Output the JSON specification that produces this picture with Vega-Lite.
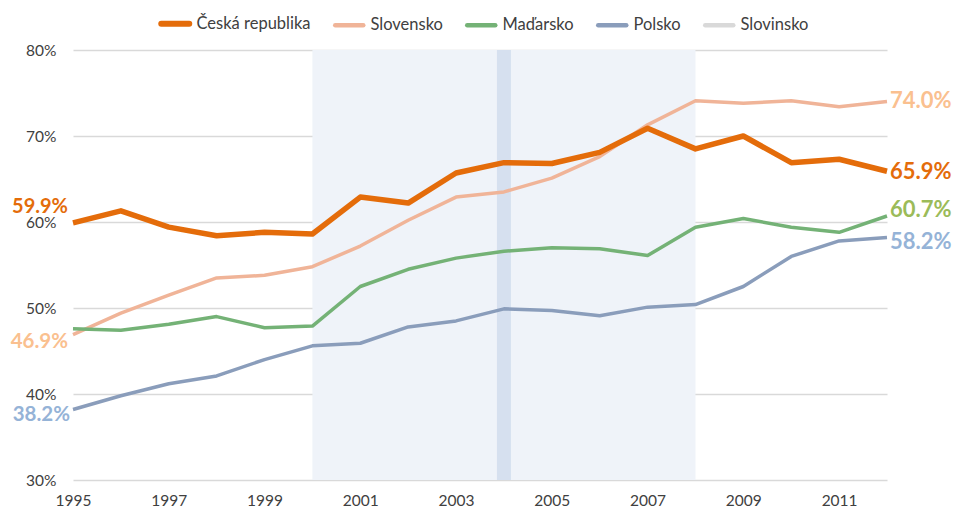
{
  "$schema": "https://vega.github.io/schema/vega-lite/v6.json",
  "width": 814,
  "height": 430,
  "autosize": {"type": "none"},
  "padding": {"left": 73, "top": 50, "right": 70, "bottom": 31},
  "background": "white",
  "config": {
    "view": {"stroke": null},
    "font": "Lato",
    "text": {"font": "Lato"}
  },
  "datasets": {
    "periods": [{"start": 2000, "end": 2008}],
    "events": [{"year": 2004}],
    "series": [
      {"country": "Česká republika", "year": 1995, "value": 59.9},
      {"country": "Česká republika", "year": 1996, "value": 61.3},
      {"country": "Česká republika", "year": 1997, "value": 59.4},
      {"country": "Česká republika", "year": 1998, "value": 58.4},
      {"country": "Česká republika", "year": 1999, "value": 58.8},
      {"country": "Česká republika", "year": 2000, "value": 58.6},
      {"country": "Česká republika", "year": 2001, "value": 62.9},
      {"country": "Česká republika", "year": 2002, "value": 62.2},
      {"country": "Česká republika", "year": 2003, "value": 65.7},
      {"country": "Česká republika", "year": 2004, "value": 66.9},
      {"country": "Česká republika", "year": 2005, "value": 66.8},
      {"country": "Česká republika", "year": 2006, "value": 68.1},
      {"country": "Česká republika", "year": 2007, "value": 70.9},
      {"country": "Česká republika", "year": 2008, "value": 68.5},
      {"country": "Česká republika", "year": 2009, "value": 70.0},
      {"country": "Česká republika", "year": 2010, "value": 66.9},
      {"country": "Česká republika", "year": 2011, "value": 67.3},
      {"country": "Česká republika", "year": 2012, "value": 65.9},
      {"country": "Slovensko", "year": 1995, "value": 46.9},
      {"country": "Slovensko", "year": 1996, "value": 49.4},
      {"country": "Slovensko", "year": 1997, "value": 51.5},
      {"country": "Slovensko", "year": 1998, "value": 53.5},
      {"country": "Slovensko", "year": 1999, "value": 53.8},
      {"country": "Slovensko", "year": 2000, "value": 54.8},
      {"country": "Slovensko", "year": 2001, "value": 57.2},
      {"country": "Slovensko", "year": 2002, "value": 60.2},
      {"country": "Slovensko", "year": 2003, "value": 62.9},
      {"country": "Slovensko", "year": 2004, "value": 63.5},
      {"country": "Slovensko", "year": 2005, "value": 65.1},
      {"country": "Slovensko", "year": 2006, "value": 67.6},
      {"country": "Slovensko", "year": 2007, "value": 71.3},
      {"country": "Slovensko", "year": 2008, "value": 74.1},
      {"country": "Slovensko", "year": 2009, "value": 73.8},
      {"country": "Slovensko", "year": 2010, "value": 74.1},
      {"country": "Slovensko", "year": 2011, "value": 73.4},
      {"country": "Slovensko", "year": 2012, "value": 74.0},
      {"country": "Maďarsko", "year": 1995, "value": 47.6},
      {"country": "Maďarsko", "year": 1996, "value": 47.4},
      {"country": "Maďarsko", "year": 1997, "value": 48.1},
      {"country": "Maďarsko", "year": 1998, "value": 49.0},
      {"country": "Maďarsko", "year": 1999, "value": 47.7},
      {"country": "Maďarsko", "year": 2000, "value": 47.9},
      {"country": "Maďarsko", "year": 2001, "value": 52.5},
      {"country": "Maďarsko", "year": 2002, "value": 54.5},
      {"country": "Maďarsko", "year": 2003, "value": 55.8},
      {"country": "Maďarsko", "year": 2004, "value": 56.6},
      {"country": "Maďarsko", "year": 2005, "value": 57.0},
      {"country": "Maďarsko", "year": 2006, "value": 56.9},
      {"country": "Maďarsko", "year": 2007, "value": 56.1},
      {"country": "Maďarsko", "year": 2008, "value": 59.4},
      {"country": "Maďarsko", "year": 2009, "value": 60.4},
      {"country": "Maďarsko", "year": 2010, "value": 59.4},
      {"country": "Maďarsko", "year": 2011, "value": 58.8},
      {"country": "Maďarsko", "year": 2012, "value": 60.7},
      {"country": "Polsko", "year": 1995, "value": 38.2},
      {"country": "Polsko", "year": 1996, "value": 39.8},
      {"country": "Polsko", "year": 1997, "value": 41.2},
      {"country": "Polsko", "year": 1998, "value": 42.1},
      {"country": "Polsko", "year": 1999, "value": 44.0},
      {"country": "Polsko", "year": 2000, "value": 45.6},
      {"country": "Polsko", "year": 2001, "value": 45.9},
      {"country": "Polsko", "year": 2002, "value": 47.8},
      {"country": "Polsko", "year": 2003, "value": 48.5},
      {"country": "Polsko", "year": 2004, "value": 49.9},
      {"country": "Polsko", "year": 2005, "value": 49.7},
      {"country": "Polsko", "year": 2006, "value": 49.1},
      {"country": "Polsko", "year": 2007, "value": 50.1},
      {"country": "Polsko", "year": 2008, "value": 50.4},
      {"country": "Polsko", "year": 2009, "value": 52.5},
      {"country": "Polsko", "year": 2010, "value": 56.0},
      {"country": "Polsko", "year": 2011, "value": 57.8},
      {"country": "Polsko", "year": 2012, "value": 58.2}
    ]
  },
  "layer": [
    {
      "data": {"name": "periods"},
      "mark": {"type": "rect", "color": "#eff3f9"},
      "encoding": {
        "x": {"field": "start", "type": "quantitative", "title": null, "scale": {"domain": [1995, 2012], "nice": false, "zero": false}},
        "x2": {"field": "end"}
      }
    },
    {
      "data": {"name": "events"},
      "mark": {"type": "rule", "color": "#d6e0ef", "strokeWidth": 14},
      "encoding": {
        "x": {"field": "year", "type": "quantitative", "title": null, "scale": {"domain": [1995, 2012], "nice": false, "zero": false}}
      }
    },
    {
      "data": {"name": "series"},
      "transform": [{"filter": "datum.country !== 'Česká republika'"}],
      "mark": {"type": "line", "strokeWidth": 3.5, "strokeJoin": "round"},
      "encoding": {
        "x": {
          "field": "year", "type": "quantitative", "title": null,
          "scale": {"domain": [1995, 2012], "nice": false, "zero": false},
          "axis": {
            "values": [1995, 1997, 1999, 2001, 2003, 2005, 2007, 2009, 2011],
            "format": "d", "grid": false, "domain": false, "ticks": false,
            "labelFlush": false, "labelPadding": 13, "labelFontSize": 15.5,
            "labelColor": "#404040", "labelFont": "Lato"
          }
        },
        "y": {
          "field": "value", "type": "quantitative", "title": null,
          "scale": {"domain": [30, 80], "nice": false, "zero": false},
          "axis": {
            "values": [30, 40, 50, 60, 70, 80],
            "labelExpr": "datum.value + '%'",
            "grid": true, "gridColor": "#d9d9d9", "gridWidth": 1.5,
            "domain": false, "ticks": false, "labelPadding": 17,
            "labelFontSize": 15.5, "labelColor": "#404040", "labelFont": "Lato"
          }
        },
        "color": {
          "field": "country", "type": "nominal",
          "scale": {
            "domain": ["Česká republika", "Slovensko", "Maďarsko", "Polsko", "Slovinsko"],
            "range": ["#e46c0a", "#f0b498", "#74b276", "#8a9dbb", "#d9d9d9"]
          },
          "legend": {
            "orient": "none", "legendX": 94, "legendY": -35,
            "direction": "horizontal", "title": null,
            "symbolType": "stroke", "symbolSize": 784, "symbolStrokeWidth": 4.5,
            "labelFontSize": 16.5, "labelColor": "#404040", "labelFont": "Lato",
            "labelOffset": 13, "columnPadding": 15,
            "encode": {"symbols": {"update": {"strokeCap": {"value": "round"}, "strokeWidth": {"signal": "datum.value === 'Česká republika' ? 6 : 4.5"}}}}
          }
        }
      }
    },
    {
      "data": {"name": "series"},
      "transform": [{"filter": "datum.country === 'Česká republika'"}],
      "mark": {"type": "line", "strokeWidth": 5.5, "strokeJoin": "round"},
      "encoding": {
        "x": {"field": "year", "type": "quantitative", "title": null, "scale": {"domain": [1995, 2012], "nice": false, "zero": false}},
        "y": {"field": "value", "type": "quantitative", "title": null, "scale": {"domain": [30, 80], "nice": false, "zero": false}},
        "color": {
          "field": "country", "type": "nominal",
          "scale": {
            "domain": ["Česká republika", "Slovensko", "Maďarsko", "Polsko", "Slovinsko"],
            "range": ["#e46c0a", "#f0b498", "#74b276", "#8a9dbb", "#d9d9d9"]
          }
        }
      }
    },
    {
      "data": {"name": "series"},
      "transform": [
        {"filter": "datum.country === 'Česká republika' && datum.year === 1995"},
        {"calculate": "format(datum.value, '.1f') + '%'", "as": "label"}
      ],
      "mark": {"type": "text", "align": "right", "baseline": "middle", "dx": -5, "dy": -16, "fontSize": 20, "fontWeight": "bold", "color": "#e46c0a"},
      "encoding": {
        "x": {"field": "year", "type": "quantitative", "title": null, "scale": {"domain": [1995, 2012], "nice": false, "zero": false}},
        "y": {"field": "value", "type": "quantitative", "title": null, "scale": {"domain": [30, 80], "nice": false, "zero": false}},
        "text": {"field": "label"}
      }
    },
    {
      "data": {"name": "series"},
      "transform": [
        {"filter": "datum.country === 'Slovensko' && datum.year === 1995"},
        {"calculate": "format(datum.value, '.1f') + '%'", "as": "label"}
      ],
      "mark": {"type": "text", "align": "right", "baseline": "middle", "dx": -5, "dy": 7, "fontSize": 20.5, "fontWeight": "bold", "color": "#fac08f"},
      "encoding": {
        "x": {"field": "year", "type": "quantitative", "title": null, "scale": {"domain": [1995, 2012], "nice": false, "zero": false}},
        "y": {"field": "value", "type": "quantitative", "title": null, "scale": {"domain": [30, 80], "nice": false, "zero": false}},
        "text": {"field": "label"}
      }
    },
    {
      "data": {"name": "series"},
      "transform": [
        {"filter": "datum.country === 'Polsko' && datum.year === 1995"},
        {"calculate": "format(datum.value, '.1f') + '%'", "as": "label"}
      ],
      "mark": {"type": "text", "align": "right", "baseline": "middle", "dx": -3, "dy": 6, "fontSize": 20.5, "fontWeight": "bold", "color": "#95b3d7"},
      "encoding": {
        "x": {"field": "year", "type": "quantitative", "title": null, "scale": {"domain": [1995, 2012], "nice": false, "zero": false}},
        "y": {"field": "value", "type": "quantitative", "title": null, "scale": {"domain": [30, 80], "nice": false, "zero": false}},
        "text": {"field": "label"}
      }
    },
    {
      "data": {"name": "series"},
      "transform": [
        {"filter": "datum.country === 'Slovensko' && datum.year === 2012"},
        {"calculate": "format(datum.value, '.1f') + '%'", "as": "label"}
      ],
      "mark": {"type": "text", "align": "left", "baseline": "middle", "dx": 3, "dy": -1, "fontSize": 22, "fontWeight": "bold", "color": "#fac08f"},
      "encoding": {
        "x": {"field": "year", "type": "quantitative", "title": null, "scale": {"domain": [1995, 2012], "nice": false, "zero": false}},
        "y": {"field": "value", "type": "quantitative", "title": null, "scale": {"domain": [30, 80], "nice": false, "zero": false}},
        "text": {"field": "label"}
      }
    },
    {
      "data": {"name": "series"},
      "transform": [
        {"filter": "datum.country === 'Česká republika' && datum.year === 2012"},
        {"calculate": "format(datum.value, '.1f') + '%'", "as": "label"}
      ],
      "mark": {"type": "text", "align": "left", "baseline": "middle", "dx": 3, "dy": 1, "fontSize": 22, "fontWeight": "bold", "color": "#e46c0a"},
      "encoding": {
        "x": {"field": "year", "type": "quantitative", "title": null, "scale": {"domain": [1995, 2012], "nice": false, "zero": false}},
        "y": {"field": "value", "type": "quantitative", "title": null, "scale": {"domain": [30, 80], "nice": false, "zero": false}},
        "text": {"field": "label"}
      }
    },
    {
      "data": {"name": "series"},
      "transform": [
        {"filter": "datum.country === 'Maďarsko' && datum.year === 2012"},
        {"calculate": "format(datum.value, '.1f') + '%'", "as": "label"}
      ],
      "mark": {"type": "text", "align": "left", "baseline": "middle", "dx": 3, "dy": -6, "fontSize": 22, "fontWeight": "bold", "color": "#9bbb59"},
      "encoding": {
        "x": {"field": "year", "type": "quantitative", "title": null, "scale": {"domain": [1995, 2012], "nice": false, "zero": false}},
        "y": {"field": "value", "type": "quantitative", "title": null, "scale": {"domain": [30, 80], "nice": false, "zero": false}},
        "text": {"field": "label"}
      }
    },
    {
      "data": {"name": "series"},
      "transform": [
        {"filter": "datum.country === 'Polsko' && datum.year === 2012"},
        {"calculate": "format(datum.value, '.1f') + '%'", "as": "label"}
      ],
      "mark": {"type": "text", "align": "left", "baseline": "middle", "dx": 3, "dy": 5, "fontSize": 22, "fontWeight": "bold", "color": "#95b3d7"},
      "encoding": {
        "x": {"field": "year", "type": "quantitative", "title": null, "scale": {"domain": [1995, 2012], "nice": false, "zero": false}},
        "y": {"field": "value", "type": "quantitative", "title": null, "scale": {"domain": [30, 80], "nice": false, "zero": false}},
        "text": {"field": "label"}
      }
    }
  ]
}
